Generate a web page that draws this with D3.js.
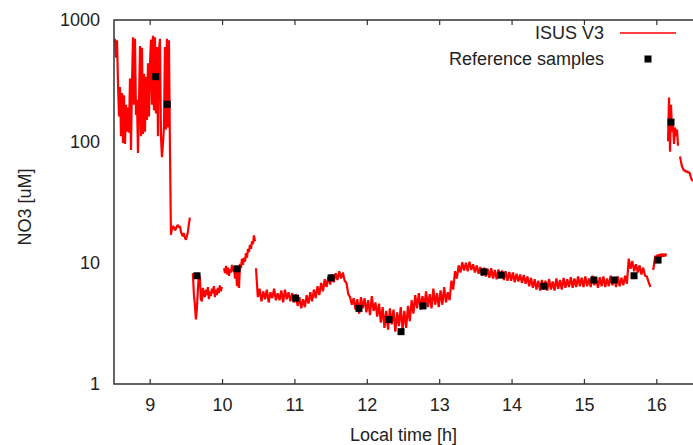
<!DOCTYPE html>
<html lang="en">
<head>
<meta charset="UTF-8">
<title>NO3 ISUS vs reference samples</title>
<script src="https://d3js.org/d3.v7.min.js"></script>
<style>
  html, body { margin: 0; padding: 0; background: #fff; }
  svg text { font-family: "Liberation Sans", Arial, sans-serif; fill: #222; font-size: 18px; }
</style>
</head>
<body>
<svg id="chart" width="693" height="445"></svg>
<script>
// ISUS record: separate runs, samples evenly spaced inside a run (start [h], step [h])
const runStarts = [8.514, 9.59, 10.02, 10.462, 15.95, 16.155, 16.32];
const runSteps  = [0.0138, 0.0138, 0.0138, 0.025, 0.015, 0.0138, 0.0138];

const run1 = [700, 490, 680, 300, 160, 280, 110, 250, 97, 240,
  95, 200, 120, 190, 118, 330, 85, 300, 720, 200,
  700, 165, 220, 80, 200, 610, 110, 590, 115, 360,
  120, 340, 150, 440, 160, 430, 690, 200, 740, 180,
  720, 170, 600, 110, 560, 700, 110, 74, 95, 130,
  600, 125, 700, 130, 680, 90, 17, 19, 20, 19.5,
  18.5, 19, 20, 20.5, 19.5, 20, 18, 17, 16.5, 17.5,
  16, 15.5, 16.5, 18, 21, 23.5];
const run2 = [8.2, 5.5, 4.5, 3.4, 4.2, 6, 8, 7.5, 5, 4.8,
  6.2, 5.5, 5.2, 6.0, 5.4, 6.3, 5.0, 5.8, 5.3, 6.1,
  5.6, 6.4, 5.2, 6.0, 5.4, 6.2, 5.6, 6.5, 5.8, 6.3];
const run3 = [9.0, 8.2, 9.4, 8.0, 9.1, 7.8, 8.8, 8.3, 9.6, 8.5,
  9.2, 7.4, 8.8, 6.4, 8.6, 6.2, 9.8, 9.0, 10.8, 9.6,
  11.0, 10.2, 12.0, 11.0, 13.0, 12.2, 14.0, 13.0, 15.0, 14.2,
  16.8, 15.0];
const run4 = [
  9.0, 5.2, 6.1, 4.8, 5.8, 5.0, 6.0, 4.7, 5.7, 5.1, 6.1, 4.9, 5.6, 4.9, 5.9, 4.7, 6.0, 5.0, 5.7, 4.8,
  5.6, 4.7, 5.5, 4.4, 5.2, 4.2, 5.0, 4.3, 5.4, 4.6, 5.7, 4.8, 6.0, 5.1, 6.4, 5.4, 6.8, 5.8, 7.3, 6.3,
  7.7, 6.6, 8.0, 6.9, 8.2, 7.2, 8.5, 7.4, 8.3, 7.1, 6.8, 5.5, 5.2, 4.5, 5.1, 4.1, 5.0, 3.8, 5.2, 4.2,
  5.1, 3.9, 4.9, 3.7, 5.3, 4.0, 4.7, 3.6, 4.6, 3.2, 4.3, 2.9, 4.0, 2.8, 4.2, 3.1, 4.1, 2.7, 3.9, 3.0,
  4.3, 2.8, 4.0, 2.9, 4.4, 3.3, 4.9, 3.8, 5.4, 4.2, 5.6, 4.1, 5.3, 4.4, 5.8, 4.3, 5.5, 4.2, 6.1, 4.5,
  5.6, 4.3, 5.9, 4.5, 6.3, 4.7, 5.7, 4.9, 7.1, 6.0, 8.5, 7.4, 9.5, 8.3, 10.1, 8.6, 10.0, 8.5, 10.2, 8.7,
  9.7, 8.3, 9.5, 8.1, 9.2, 7.8, 9.1, 7.7, 8.9, 7.5, 9.0, 7.4, 8.7, 7.3, 8.8, 7.5, 8.6, 7.2, 8.5, 7.1,
  8.4, 7.1, 8.3, 6.9, 8.1, 7.0, 8.0, 6.8, 7.9, 6.7, 7.7, 6.4, 7.5, 6.2, 7.3, 6.0, 7.1, 5.9, 7.2, 6.0,
  7.1, 5.9, 7.3, 6.0, 7.0, 5.9, 7.4, 6.1, 7.2, 6.0, 7.5, 6.2, 7.3, 6.3, 7.6, 6.2, 7.4, 6.3, 7.7, 6.4,
  7.5, 6.3, 7.7, 6.4, 7.4, 6.3, 7.8, 6.5, 7.5, 6.2, 7.6, 6.4, 7.7, 6.3, 7.4, 6.4, 7.8, 6.5, 7.6, 6.3,
  7.7, 6.4, 7.5, 6.5, 7.8, 6.7, 10.8, 8.9, 10.3, 8.5, 9.7, 8.3, 9.5, 8.0, 9.1, 7.8, 7.7, 6.9, 6.3];
const run5 = [8.7, 10.0, 11.4, 10.6, 11.7, 10.8, 11.8, 11.0, 11.9, 11.2, 11.8, 11.3, 11.9];
const run6 = [100, 230, 82, 200, 120, 140, 95, 130, 110, 125, 92];
const run7 = [75, 68, 62, 60, 57, 58, 56, 57, 55, 56, 54, 50, 48, 47];
const runValues = [run1, run2, run3, run4, run5, run6, run7];

// lab reference samples
const sampleTimes  = [9.076, 9.236, 9.647, 10.2, 11.01, 11.5, 11.885, 12.3, 12.466, 12.77,
  13.61, 13.85, 14.44, 15.13, 15.41, 15.685, 16.017, 16.196];
const sampleValues = [341, 202, 7.8, 8.9, 5.1, 7.5, 4.2, 3.4, 2.7, 4.4,
  8.4, 7.9, 6.4, 7.2, 7.2, 7.8, 10.5, 144];

const xTicks = [9, 10, 11, 12, 13, 14, 15, 16];
const yTicks = [1, 10, 100, 1000];

const svg = d3.select("#chart");
const plotLeft = 114, plotTop = 20, plotRight = 693, plotBottom = 384;

const x = d3.scaleLinear().domain([8.5, 16.5]).range([plotLeft, plotRight]);
const y = d3.scaleLog().domain([1, 1000]).range([plotBottom, plotTop]);

// red sensor trace
const runs = runValues.map((vals, i) =>
  vals.map((v, j) => ({ t: runStarts[i] + j * runSteps[i], v: v })));

const line = d3.line().x(d => x(d.t)).y(d => y(d.v));

svg.append("g")
  .selectAll("path")
  .data(runs)
  .join("path")
  .attr("d", line)
  .attr("fill", "none")
  .attr("stroke", "#ff0000")
  .attr("stroke-width", 2.2)
  .attr("stroke-linejoin", "bevel");

// reference samples
const samples = sampleTimes.map((t, i) => ({ t: t, v: sampleValues[i] }));
svg.append("g")
  .selectAll("rect")
  .data(samples)
  .join("rect")
  .attr("x", d => x(d.t) - 3.5)
  .attr("y", d => y(d.v) - 3.5)
  .attr("width", 7)
  .attr("height", 7)
  .attr("fill", "#000");

// frame (right side falls outside the picture)
svg.append("path")
  .attr("d", `M${plotRight + 10},${plotTop}H${plotLeft}V${plotBottom}H${plotRight + 10}`)
  .attr("fill", "none")
  .attr("stroke", "#333")
  .attr("stroke-width", 1.5);

// x ticks, bottom and mirrored on top
const xt = svg.append("g");
xt.selectAll("line.b").data(xTicks).join("line").attr("class", "b")
  .attr("x1", d => x(d)).attr("x2", d => x(d))
  .attr("y1", plotBottom).attr("y2", plotBottom - 5)
  .attr("stroke", "#333").attr("stroke-width", 1.2);
xt.selectAll("line.t").data(xTicks).join("line").attr("class", "t")
  .attr("x1", d => x(d)).attr("x2", d => x(d))
  .attr("y1", plotTop).attr("y2", plotTop + 5)
  .attr("stroke", "#333").attr("stroke-width", 1.2);
xt.selectAll("text").data(xTicks).join("text")
  .attr("x", d => x(d))
  .attr("y", 411)
  .attr("text-anchor", "middle")
  .text(d => d);

// y tick labels
svg.append("g").selectAll("text").data(yTicks).join("text")
  .attr("x", 100)
  .attr("y", d => y(d))
  .attr("dy", "0.35em")
  .attr("text-anchor", "end")
  .text(d => d);

// axis titles
svg.append("text")
  .attr("x", (plotLeft + plotRight) / 2)
  .attr("y", 441)
  .attr("text-anchor", "middle")
  .text("Local time [h]");

svg.append("text")
  .attr("transform", "translate(31,207) rotate(-90)")
  .attr("text-anchor", "middle")
  .text("NO3 [uM]");

// legend
const lg = svg.append("g");
lg.append("text").attr("x", 604).attr("y", 33).attr("dy", "0.35em")
  .attr("text-anchor", "end").text("ISUS V3");
lg.append("line").attr("x1", 620).attr("x2", 676).attr("y1", 33).attr("y2", 33)
  .attr("stroke", "#ff0000").attr("stroke-width", 1.5);
lg.append("text").attr("x", 604).attr("y", 59).attr("dy", "0.35em")
  .attr("text-anchor", "end").text("Reference samples");
lg.append("rect").attr("x", 648 - 3.5).attr("y", 59 - 3.5)
  .attr("width", 7).attr("height", 7).attr("fill", "#000");
</script>
</body>
</html>
